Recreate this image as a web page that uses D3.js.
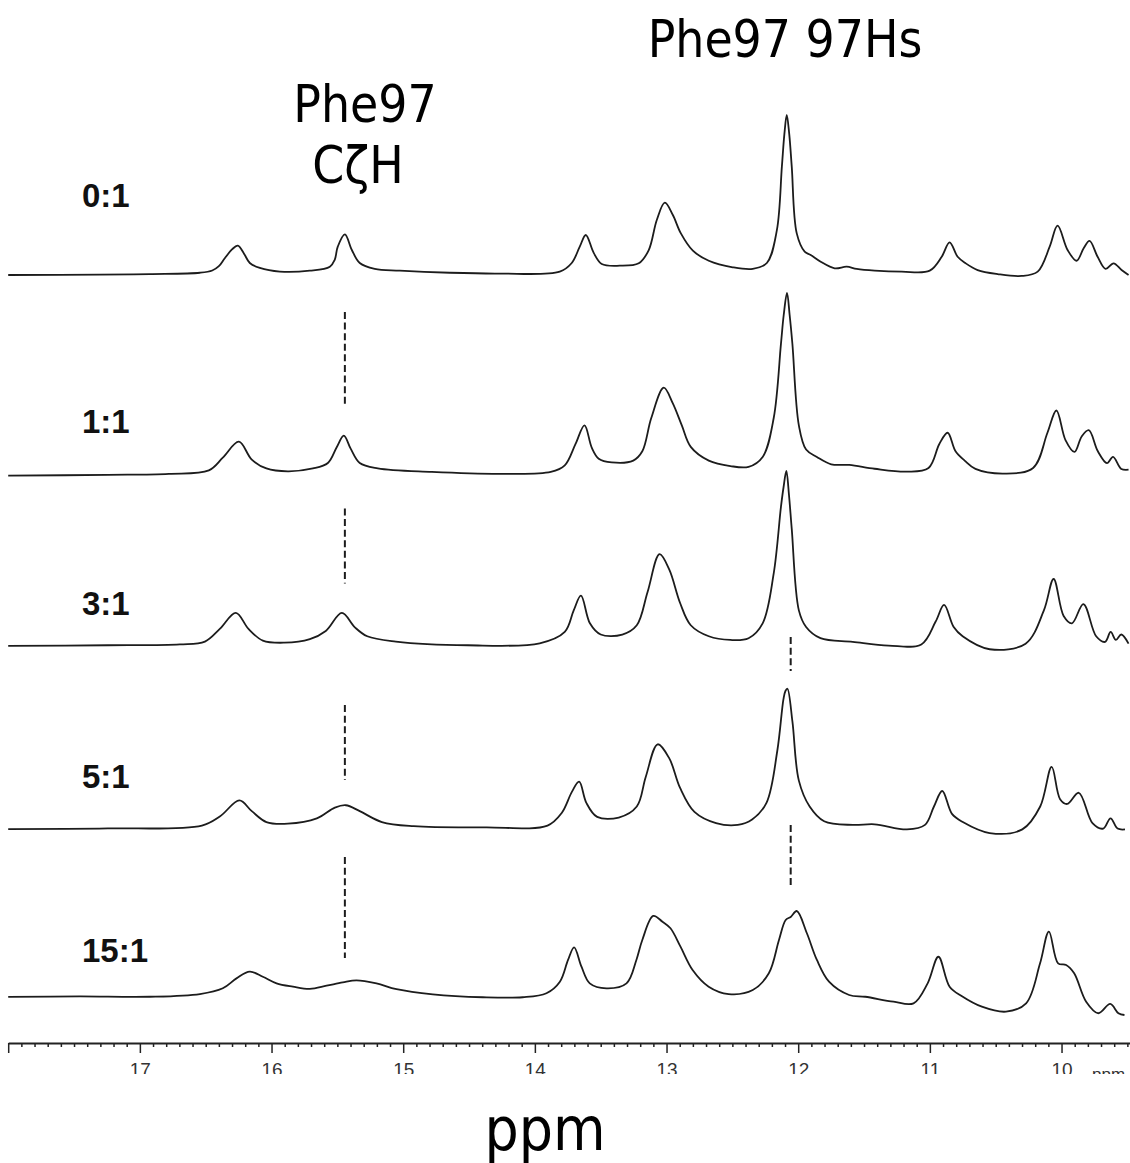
<!DOCTYPE html>
<html>
<head>
<meta charset="utf-8">
<script src="https://cdn.jsdelivr.net/npm/d3@7"></script>
<style>
  body { margin: 0; background: #fff; }
  svg { display: block; }
</style>
</head>
<body>
<div id="chart-area"></div>
<script>

// ratios of the titration, top to bottom
let ratios = ["0:1", "1:1", "3:1", "5:1", "15:1"];

// vertical stacking offset of each trace (intensity units)
let stackOffset = [0, -126, -232, -346, -452];

// traces: [ppm, intensity], 0:1 tallest peak = 100
let spec0 = [
  [18.0,0],[17.304,0.2],[16.924,0.6],[16.544,1.4],[16.450,2.8],[16.400,5.5],[16.355,10.5],[16.300,16.0],
  [16.256,18.3],[16.210,13.5],[16.165,7.5],[16.089,4.4],[15.937,2.1],[15.709,2.7],[15.557,5.2],[15.520,9.5],
  [15.497,17.7],[15.443,25.4],
  [15.390,15.6],[15.330,7.5],[15.216,3.8],[15.026,2.7],[14.646,1.4],[14.267,0.9],[13.811,2.1],
  [13.720,7.5],[13.659,17.7],[13.613,25.0],[13.553,13.8],[13.492,6.9],[13.355,5.8],[13.211,7.3],
  [13.135,15.6],[13.074,34.4],[13.013,45.2],[12.952,37.5],[12.891,26.0],[12.800,15.2],[12.679,8.9],
  [12.497,4.8],[12.345,3.8],[12.238,7.5],[12.162,28.0],[12.124,67.7],[12.105,88],[12.087,100],
  [12.068,88],[12.049,67.7],[12.011,26.0],[11.951,14.6],[11.905,12.5],[11.829,8.3],[11.723,4.2],
  [11.632,5.2],[11.556,3.8],[11.419,2.7],[11.214,2.1],[11.001,2.7],[10.910,11.4],[10.850,20.4],
  [10.789,11.4],[10.728,7.3],[10.637,3.1],[10.485,0.6],[10.303,-0.6],[10.181,2.1],[10.090,17.7],
  [10.030,30.8],[9.954,15.6],[9.885,8.9],[9.832,16.7],[9.787,21.3],[9.726,11.4],[9.665,3.8],
  [9.605,7.3],[9.544,3.1],[9.491,0]
];

let spec1 = [
  [18.0,0.6],[17.243,1.1],[16.780,1.7],[16.476,3.9],[16.370,11.8],[16.248,21.8],[16.150,10.6],
  [16.039,5.1],[15.876,3.3],[15.686,5.1],[15.572,8.5],[15.504,18.5],[15.451,25.6],[15.398,17.3],
  [15.330,8.5],[15.193,5.1],[14.783,2.9],[14.236,1.7],[13.879,2.9],[13.773,7.0],[13.691,20.4],
  [13.623,32.0],[13.568,18.1],[13.515,11.2],[13.416,8.9],[13.253,10.0],[13.184,15.8],[13.116,36.6],
  [13.021,55.6],[12.953,45.9],[12.884,32.0],[12.816,18.6],[12.679,10.0],[12.515,6.6],[12.377,6.1],
  [12.270,12.3],[12.186,36.6],[12.131,82.9],[12.110,101],[12.085,114.8],[12.065,101],[12.044,82.9],
  [11.995,32.0],[11.940,16.9],[11.858,12.3],[11.749,7.7],[11.612,7.3],[11.420,4.9],[11.174,3.1],
  [11.010,5.4],[10.928,20.4],[10.865,27.4],[10.805,15.8],[10.736,10.0],[10.654,4.8],[10.435,1.9],
  [10.216,5.4],[10.107,27.4],[10.039,41.3],[9.970,22.8],[9.902,15.4],[9.847,25.1],[9.793,29.0],
  [9.724,15.8],[9.655,8.4],[9.609,12.3],[9.546,4.8],[9.491,4.3]
];

let spec3 = [
  [18.0,0.2],[17.243,0.6],[16.696,1.1],[16.506,2.9],[16.393,10.8],[16.271,20.8],[16.175,10.8],
  [16.066,3.5],[15.902,2.2],[15.709,4.4],[15.588,9.5],[15.466,20.8],[15.367,11.8],[15.273,6.2],
  [15.056,2.9],[14.509,0.6],[13.963,1.8],[13.773,8.9],[13.705,22.4],[13.650,31.6],[13.582,14.3],
  [13.500,7.3],[13.336,7.3],[13.226,13.1],[13.144,33.9],[13.053,57.5],[12.979,47.8],[12.897,27.0],
  [12.816,13.1],[12.679,6.2],[12.515,3.9],[12.377,5.0],[12.270,14.3],[12.186,45.5],[12.131,87.1],
  [12.111,99.5],[12.090,109.6],[12.070,94.5],[12.049,73.3],[11.995,22.4],[11.940,12.0],[11.831,5.0],
  [11.586,2.7],[11.313,0.4],[11.065,1.1],[10.956,15.4],[10.892,25.8],[10.819,12.0],[10.751,6.2],
  [10.546,-1.9],[10.273,1.6],[10.134,22.4],[10.060,42.0],[9.984,18.9],[9.921,14.3],[9.834,26.3],
  [9.737,6.2],[9.669,2.7],[9.627,8.9],[9.587,3.9],[9.546,7.3],[9.491,1.6]
];

let spec5 = [
  [18.0,-0.3],[17.243,0.1],[16.529,1.9],[16.393,7.5],[16.244,17.6],[16.150,10.9],[16.039,4.1],
  [15.876,3.1],[15.656,6.4],[15.519,13.1],[15.436,14.6],[15.330,10.9],[15.162,4.1],[14.920,1.5],
  [14.373,0.8],[13.904,1.9],[13.796,9.8],[13.718,23.1],[13.664,29.3],[13.609,16.1],[13.527,7.3],
  [13.363,6.9],[13.226,13.8],[13.158,32.3],[13.067,52.7],[12.979,43.9],[12.897,25.4],[12.788,10.4],
  [12.624,3.4],[12.459,2.3],[12.350,5.7],[12.241,16.1],[12.159,48.5],[12.112,80.9],[12.097,86],
  [12.082,87.4],[12.044,67.0],[11.995,30.0],[11.913,13.8],[11.803,4.6],[11.585,2.3],[11.420,2.7],
  [11.174,-0.5],[11.037,2.3],[10.969,13.8],[10.906,23.5],[10.832,9.2],[10.750,4.1],[10.546,-2.8],
  [10.298,-0.5],[10.162,13.8],[10.075,38.6],[10.011,18.4],[9.957,15.4],[9.869,22.4],[9.765,3.4],
  [9.683,0],[9.628,6.4],[9.574,0],[9.518,-0.5]
];

let spec15 = [
  [18.0,0.8],[17.456,1.1],[16.924,0.9],[16.544,2.6],[16.370,6.2],[16.266,12.4],[16.165,16.6],
  [16.066,13.4],[15.962,9.3],[15.838,7.2],[15.709,5.8],[15.582,7.8],[15.459,9.9],[15.355,11.2],
  [15.203,9.3],[15.051,5.6],[14.775,2.4],[14.396,0.6],[14.092,0.6],[13.912,3.1],[13.810,10.3],
  [13.748,23.9],[13.702,31.8],[13.646,19.7],[13.583,9.3],[13.456,6.2],[13.304,9.3],[13.229,23.9],
  [13.184,36.4],[13.101,51.4],[13.031,47.8],[12.970,43.7],[12.894,32.2],[12.802,17.6],[12.680,7.2],
  [12.528,2.6],[12.345,5.1],[12.223,15.6],[12.146,36.4],[12.095,48.9],[12.057,50.8],[12.011,54.5],
  [11.934,40.6],[11.858,23.9],[11.766,10.3],[11.613,2.0],[11.491,0.9],[11.276,-2.2],[11.124,-3.2],
  [11.017,9.3],[10.935,25.9],[10.850,7.2],[10.759,1.4],[10.605,-5.3],[10.422,-8.4],[10.269,-3.2],
  [10.163,21.8],[10.096,41.6],[10.026,21.8],[9.965,20.8],[9.904,15.6],[9.813,-2.2],[9.721,-9.4],
  [9.630,-3.6],[9.568,-9.4],[9.522,-10.5]
];

let spectra = [spec0, spec1, spec3, spec5, spec15];

// dashed guide lines: [ppm, top, bottom] in stacked intensity units
let guides = [
  [15.443, -23.1, -82.5], [15.443, -145.9, -192.8], [15.443, -268.8, -315.6], [15.443, -363.8, -426.9],
  [12.057, -226.3, -247.5], [12.057, -343.8, -383.1]
];

// axis ticks
let majorTicks = [18, 17, 16, 15, 14, 13, 12, 11, 10];
let tickLabels = [17, 16, 15, 14, 13, 12, 11, 10];
let minorTicks = d3.range(95, 180).filter(d => d % 10 != 0).map(d => d / 10);


let width = 1130,
    height = 1163;

let svg = d3.select("#chart-area").append("svg")
    .attr("width", width)
    .attr("height", height);

svg.append("rect").attr("width", width).attr("height", height).attr("fill", "#fff");

let x = d3.scaleLinear().domain([18, 9.48]).range([8.2, 1130]);
let y = d3.scaleLinear().domain([0, 100]).range([275, 115]);

let line = d3.line()
    .x(d => x(d[0]))
    .y(d => y(d[1]))
    .curve(d3.curveCatmullRom.alpha(0.5));

// traces
svg.selectAll(".trace")
  .data(spectra)
  .enter().append("path")
  .attr("class", "trace")
  .attr("d", (d, i) => line(d.map(p => [p[0], p[1] + stackOffset[i]])))
  .attr("fill", "none")
  .attr("stroke", "#1c1c1c")
  .attr("stroke-width", 1.8)
  .attr("stroke-linejoin", "round");

// dashed guides
svg.selectAll(".guide")
  .data(guides)
  .enter().append("line")
  .attr("class", "guide")
  .attr("x1", d => x(d[0])).attr("x2", d => x(d[0]))
  .attr("y1", d => y(d[1])).attr("y2", d => y(d[2]))
  .attr("stroke", "#1c1c1c")
  .attr("stroke-width", 2)
  .attr("stroke-dasharray", "7,3.6");

// ratio labels (lift above each trace's baseline)
let labelLift = [42.5, 27, 19.5, 25.4, 22.6];
svg.selectAll(".ratio")
  .data(ratios)
  .enter().append("text")
  .attr("class", "ratio")
  .attr("x", 82)
  .attr("y", (d, i) => y(stackOffset[i] + labelLift[i]))
  .style("font-family", "'Liberation Sans', Arial, sans-serif")
  .style("font-weight", "bold")
  .style("font-size", "33px")
  .attr("fill", "#111")
  .text(d => d);

// peak annotations
let annFont = "'DejaVu Sans Condensed', 'DejaVu Sans', sans-serif";
svg.append("text").attr("x", 785).attr("y", 57).attr("text-anchor", "middle")
  .style("font-family", annFont).style("font-size", "51px").text("Phe97 97Hs");
svg.append("text").attr("x", 365).attr("y", 122).attr("text-anchor", "middle")
  .style("font-family", annFont).style("font-size", "51px").text("Phe97");
svg.append("text").attr("x", 358).attr("y", 183).attr("text-anchor", "middle")
  .style("font-family", annFont).style("font-size", "51px").text("CζH");

// axis
let axisY = 1043;
svg.append("clipPath").attr("id", "cut")
  .append("rect").attr("x", 0).attr("y", -50).attr("width", width).attr("height", 1074 - axisY + 50);

let axisG = svg.append("g")
  .attr("transform", "translate(0," + axisY + ")")
  .attr("clip-path", "url(#cut)");

axisG.append("g")
  .call(d3.axisBottom(x).tickValues(minorTicks).tickSize(4).tickSizeOuter(0).tickFormat(""))
  .call(g => g.select(".domain").remove());

let major = axisG.append("g")
  .call(d3.axisBottom(x).tickValues(majorTicks).tickSize(10).tickSizeOuter(0)
    .tickFormat(d => tickLabels.includes(d) ? d : ""));

axisG.selectAll("line").attr("stroke", "#222").attr("stroke-width", 1.5);
major.select(".domain").attr("stroke", "#222").attr("stroke-width", 1.8);
major.selectAll("text")
  .attr("y", 33).attr("dy", 0)
  .style("font-family", "'Liberation Sans', Arial, sans-serif")
  .style("font-size", "19px")
  .attr("fill", "#333");

axisG.append("text")
  .attr("x", 1092).attr("y", 37)
  .style("font-family", "'Liberation Sans', Arial, sans-serif")
  .style("font-size", "17px")
  .attr("fill", "#333")
  .text("ppm");

// axis title
svg.append("text").attr("x", 545).attr("y", 1150).attr("text-anchor", "middle")
  .style("font-family", annFont).style("font-size", "60px").text("ppm");

</script>
</body>
</html>
